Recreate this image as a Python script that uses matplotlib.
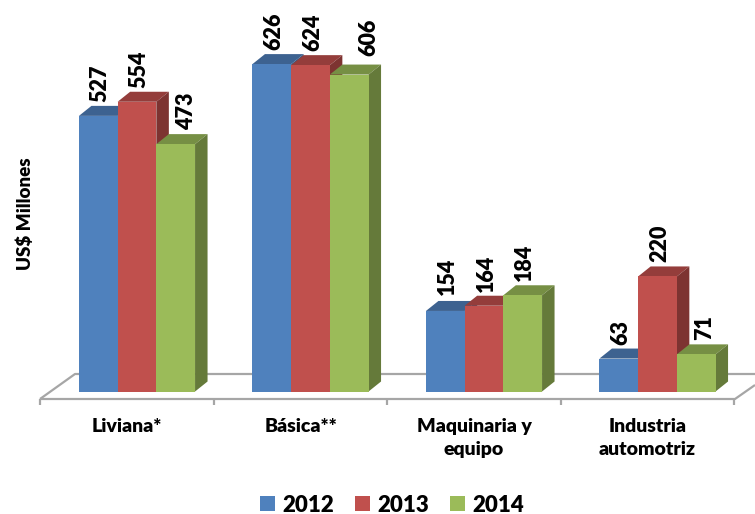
import matplotlib
matplotlib.use("Agg")
import matplotlib.pyplot as plt
from matplotlib.patches import Polygon

categories = ["Liviana*", "Básica**", "Maquinaria y\nequipo", "Industria\nautomotriz"]
years = ["2012", "2013", "2014"]
v2012 = [527, 626, 154, 63]
v2013 = [554, 624, 164, 220]
v2014 = [473, 606, 184, 71]
series = [v2012, v2013, v2014]

front = ["#4f81bd", "#c0504d", "#9bbb59"]
top = ["#3d6290", "#943d3b", "#768f44"]
side = ["#36577f", "#7d3331", "#657a3a"]
GRAY = "#a6a6a6"

W, H = 755, 514
PX_X = 173.5          # pixels per category
PX_Y = 0.523          # pixels per unit
X0, Y0 = 137.0, 391.5  # pixel of category 0 centre / value 0
BAR = 38.7 / PX_X
DX, DY = 12.5 / PX_X, 10 / PX_Y

plt.rcParams["font.family"] = ["Lato", "DejaVu Sans"]
fig = plt.figure(figsize=(W / 100, H / 100), dpi=100)
ax = fig.add_axes([0, 0, 1, 1])
ax.set_xlim(-X0 / PX_X, (W - X0) / PX_X)
ax.set_ylim(-(H - Y0) / PX_Y, Y0 / PX_Y)
ax.axis("off")

def px(x):
    return (x - X0) / PX_X
def py(y):
    return (Y0 - y) / PX_Y

# floor
line = dict(color=GRAY, lw=1.6, solid_capstyle="butt", zorder=1)
ax.plot([px(40), px(75), px(755)], [py(399), py(374), py(374)], **line)
ax.plot([px(40), px(735), px(755)], [py(399), py(399), py(385)], **line)
for i in range(5):
    tx = px(40 + i * PX_X)
    ax.plot([tx, tx], [py(399), py(405)], **line)

# bars
z = 2
for s, vals in enumerate(series):
    off = (s - 1) * BAR
    for c, v in enumerate(vals):
        l, r = c + off - BAR / 2, c + off + BAR / 2
        ax.add_patch(Polygon([(l, v), (l + DX, v + DY), (r + DX, v + DY), (r, v)],
                             fc=top[s], ec="none", zorder=z))
        ax.add_patch(Polygon([(r, 0), (r + DX, DY), (r + DX, v + DY), (r, v)],
                             fc=side[s], ec="none", zorder=z))
        ax.bar(c + off, v, BAR, color=front[s], zorder=z + 0.5,
               label=years[s] if c == 0 else None)
        z += 1

# value labels: per-label nudges in pixels (x, gap above the bar front)
nudge_x = {(2, 0): 9, (2, 1): 18, (2, 3): 6}
gap = {(2, 1): 19, (0, 2): 16}
for s, vals in enumerate(series):
    off = (s - 1) * BAR
    for c, v in enumerate(vals):
        ax.text(c + off + (2 + nudge_x.get((s, c), 0)) / PX_X,
                v + gap.get((s, c), 14) / PX_Y, str(v), rotation=90,
                ha="center", va="bottom", fontsize=15.5, fontweight="heavy",
                color="black", zorder=100)

# category labels
for c, name in enumerate(categories):
    ax.text(c - 10 / PX_X, py(418), name, ha="center", va="top", fontsize=14,
            fontweight="heavy", color="black", linespacing=1.4)

fig.text(25 / W, 1 - 214 / H, "US$ Millones", rotation=90, ha="center", va="center",
         fontsize=13.5, fontweight="heavy", color="black")

ax.legend(loc="center", bbox_to_anchor=(392 / W, 1 - 505 / H), ncol=3, frameon=False,
          prop=dict(size=16, weight="heavy"), handlelength=0.68, handleheight=0.68,
          handletextpad=0.32, columnspacing=0.93, borderpad=0, borderaxespad=0)

fig.savefig("out.png", dpi=100)
